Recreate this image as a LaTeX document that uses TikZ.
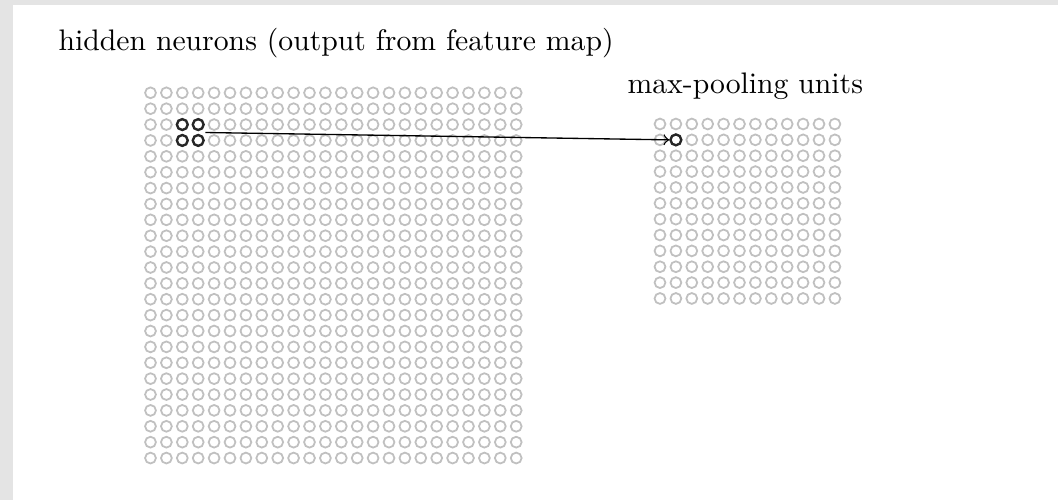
\documentclass[tikz,border=0pt]{standalone}
\usetikzlibrary{fit}
\definecolor{framegray}{RGB}{228,228,228}
\definecolor{cellgray}{RGB}{192,192,192}
\begin{document}
\begin{tikzpicture}[x=0.3366pt,y=-0.3366pt,
  cell/.style={circle,draw=cellgray,line width=0.6pt,minimum size=3.65pt,inner sep=0pt},
  active/.style={circle,draw=black!85,line width=0.8pt,minimum size=3.65pt,inner sep=0pt},
  caption/.style={anchor=base west,inner sep=0pt,font=\fontsize{10}{12}\selectfont}]
\useasboundingbox (0,0) rectangle (1058,500);
% page frame strips
\fill[framegray] (0,0) rectangle (1058,5);
\fill[framegray] (0,0) rectangle (13,500);

% labels
\node[caption] (title) at (58,50) {hidden neurons (output from feature map)};
\node[caption] (pooltitle) at (627,93) {max-pooling units};

% 24x24 hidden neurons
\foreach \i in {0,...,23} {
  \foreach \j in {0,...,23} {
    \node[cell] (h-\i-\j) at ({150.5+15.9*\i},{92.8+15.88*\j}) {};
  }
}
% highlighted 2x2 region
\foreach \i in {2,3} {
  \foreach \j in {2,3} {
    \node[active] (a-\i-\j) at ({150.5+15.9*\i},{92.8+15.88*\j}) {};
  }
}
\node[fit=(a-2-2)(a-3-3),inner sep=0pt] (block) {};

% 12x12 max-pooling units
\foreach \i in {0,...,11} {
  \foreach \j in {0,...,11} {
    \node[cell] (p-\i-\j) at ({660+15.9*\i},{124+15.86*\j}) {};
  }
}
\node[active] (target) at (p-1-1) {};

\draw[->,line width=0.45pt] (block.east) -- (target.west);
\end{tikzpicture}
\end{document}
